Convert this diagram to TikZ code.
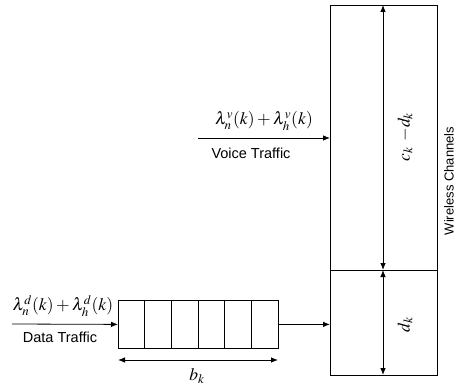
\documentclass[tikz,border=0pt]{standalone}
\usepackage{mathptmx}
\usepackage{fontspec}
\setmainfont{Liberation Sans}
\usetikzlibrary{arrows.meta}
\begin{document}
\begin{tikzpicture}[x=1pt,y=-1pt, line width=0.8pt,
  >={Latex[length=7pt,width=5.5pt]},
  lbl/.style={font=\fontsize{14.5}{16}\selectfont, inner sep=0pt},
  wlbl/.style={font=\fontsize{13}{15}\selectfont, inner sep=0pt},
  mth/.style={font=\fontsize{17.5}{19}\selectfont, inner sep=0pt},
  boxs/.style={draw, inner sep=0pt, line width=0.8pt}]
\useasboundingbox (0,0) rectangle (457,385);
% wireless channel block
\node[boxs, minimum width=107pt, minimum height=370pt, anchor=north west] (ch) at (330,5) {};
\coordinate (dl) at (330,270);
\coordinate (dr) at (437,270);
\draw (dl) -- (dr);
\coordinate (atop) at (383,5);
\coordinate (amid) at (383,270);
\coordinate (abot) at (383,375);
\draw[<->] (atop) -- (amid);
\draw[<->] (amid) -- (abot);
\node[mth, rotate=90] (ckdk) at (405,137) {$c_k \;\,{-}d_k$};
\node[mth, rotate=90] (dk) at (405,325) {$d_k$};
\node[wlbl, rotate=90] (wc) at (449,181) {Wireless Channels};
% queue
\node[boxs, minimum width=160pt, minimum height=48pt, anchor=north west] (q) at (118,300) {};
\foreach \i in {1,...,5} {
  \draw ([xshift=\i*26.667pt]q.north west) -- ([xshift=\i*26.667pt]q.south west);
}
\coordinate (din) at (12,324);
\draw[->] (din) -- (q.west);
\draw[->] (q.east) -- (q.east -| ch.west);
\node[mth] (dform) at (63,306) {$\lambda_n^d(k)+\lambda_h^d(k)$};
\node[lbl] (dtxt) at (60,337) {Data Traffic};
\coordinate (bl) at (118,360);
\coordinate (br) at (278,360);
\draw[<->] (bl) -- (br);
\node[mth] (bk) at (197,376) {$b_k$};
% voice
\coordinate (vin) at (198,138);
\draw[->] (vin) -- (vin -| ch.west);
\node[mth] (vform) at (264,121) {$\lambda_n^v(k)+\lambda_h^v(k)$};
\node[lbl] (vtxt) at (251,153) {Voice Traffic};
\end{tikzpicture}
\end{document}
